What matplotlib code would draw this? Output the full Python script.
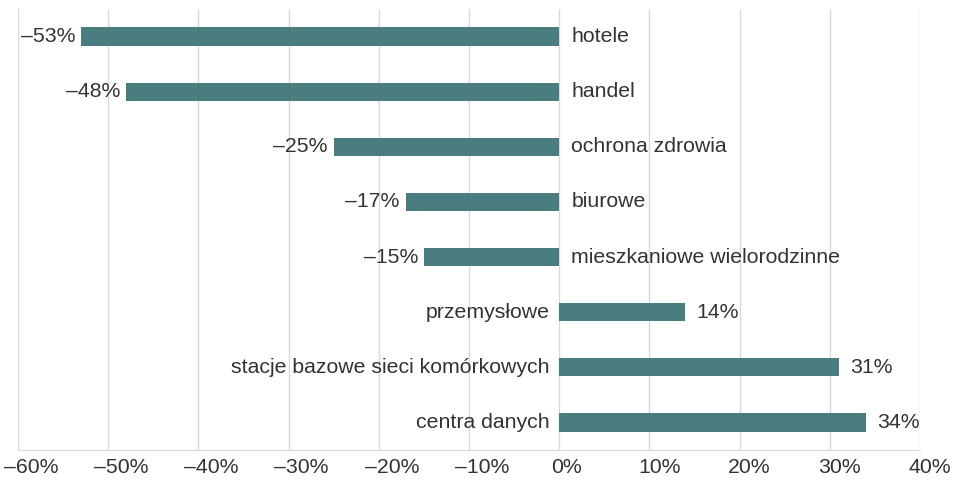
import matplotlib.pyplot as plt
import matplotlib.transforms as mtransforms
import numpy as np

# change in floor space by building type, in percent
categories = ['hotele', 'handel', 'ochrona zdrowia', 'biurowe',
              'mieszkaniowe wielorodzinne', 'przemysłowe',
              'stacje bazowe sieci komórkowych', 'centra danych']
values = [-53, -48, -25, -17, -15, 14, 31, 34]
tick_values = [-60, -50, -40, -30, -20, -10, 0, 10, 20, 30, 40]

bar_color = '#497d80'
text_color = '#333333'
fsize = 15.3

plt.rcParams['font.family'] = ['Liberation Sans', 'DejaVu Sans']


def pct(v):
    return ('–%d%%' % abs(v)) if v < 0 else ('%d%%' % v)


fig = plt.figure(figsize=(9.55, 4.8), dpi=100)
ax = fig.add_axes([18 / 955, 30 / 480, 902 / 955, 441 / 480])

y = np.arange(len(categories))
ax.barh(y, values, height=0.33, color=bar_color, zorder=2)

ax.set_xlim(-60, 40)
ax.set_ylim(len(categories) - 0.5, -0.5)

for yi, v, name in zip(y, values, categories):
    if v < 0:
        # value left of the bar, name right of zero
        ax.annotate(pct(v), (v, yi), xytext=(-6, 0), textcoords='offset pixels',
                    ha='right', va='center', fontsize=fsize, color=text_color)
        ax.annotate(name, (0, yi), xytext=(12, 0), textcoords='offset pixels',
                    ha='left', va='center', fontsize=fsize, color=text_color)
    else:
        ax.annotate(pct(v), (v, yi), xytext=(11, 0), textcoords='offset pixels',
                    ha='left', va='center', fontsize=fsize, color=text_color)
        ax.annotate(name, (0, yi), xytext=(-10, 0), textcoords='offset pixels',
                    ha='right', va='center', fontsize=fsize, color=text_color)

ax.set_xticks(tick_values)
ax.set_xticklabels([pct(t) for t in tick_values], fontsize=fsize, color=text_color)
ax.set_yticks([])
ax.tick_params(axis='x', length=0, pad=6)

# tick labels sit a little to the right of their gridlines
for t, lab in zip(tick_values, ax.get_xticklabels()):
    shift = 13 if t < 0 else (7 if t == 0 else 10)
    lab.set_transform(lab.get_transform() +
                      mtransforms.ScaledTranslation(shift / 100, 0, fig.dpi_scale_trans))

ax.grid(axis='x', color='#d9d9d9', linewidth=1, zorder=0)
for side in ['top', 'right', 'left']:
    ax.spines[side].set_visible(False)
ax.spines['bottom'].set_color('#d9d9d9')

plt.savefig('out.png', dpi=100)
